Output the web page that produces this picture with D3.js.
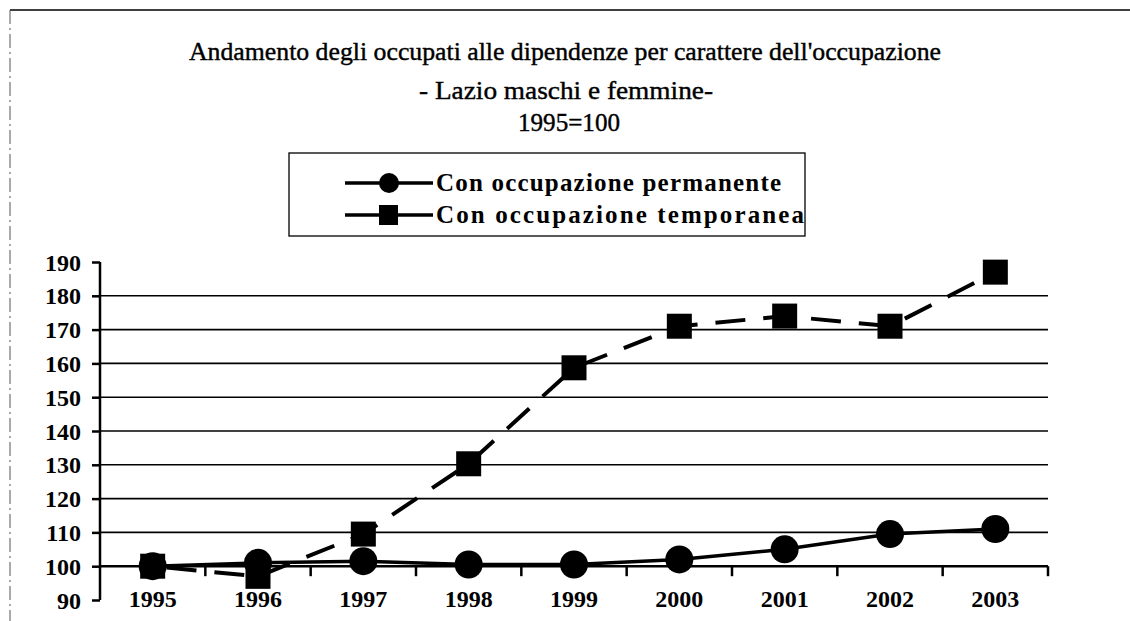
<!DOCTYPE html>
<html>
<head>
<meta charset="utf-8">
<script src="https://cdn.jsdelivr.net/npm/d3@7"></script>
<style>
  html, body { margin: 0; padding: 0; background: #fff; }
  svg { display: block; }
  text { font-family: "Liberation Serif", "Times New Roman", Times, serif !important; fill: #000; }
</style>
</head>
<body>
<svg id="chart" width="1130" height="621"></svg>
<script>
const years = ["1995","1996","1997","1998","1999","2000","2001","2002","2003"];
const permanente = [100, 101, 101.5, 100.5, 100.5, 102, 105, 109.5, 111];
const temporanea = [100, 97, 109.5, 130.3, 158.7, 171, 174, 171, 187];
const yTicks = [90, 100, 110, 120, 130, 140, 150, 160, 170, 180, 190];
const gridValues = [110, 120, 130, 140, 150, 160, 170, 180];
const seriesNames = ["Con occupazione permanente", "Con occupazione temporanea"];
const titleLines = ["Andamento degli occupati alle dipendenze per carattere dell'occupazione", "- Lazio maschi e femmine-", "1995=100"];

const svg = d3.select("#chart");

// frame
svg.append("line").attr("x1", 10).attr("x2", 1130).attr("y1", 10).attr("y2", 10)
  .attr("stroke", "#000").attr("stroke-width", 1.5);
svg.append("line").attr("x1", 10).attr("x2", 10).attr("y1", 10).attr("y2", 621)
  .attr("stroke", "#555").attr("stroke-width", 1).attr("stroke-dasharray", "14,4,2,4");

// titles
const titleY = [60, 99, 131];
const titleX = [565, 566, 569];
const titleW = [752, 294, 102];
titleLines.forEach((t, i) => {
  svg.append("text").attr("x", titleX[i]).attr("y", titleY[i]).attr("text-anchor", "middle")
    .attr("font-size", 25).attr("font-weight", "normal")
    .attr("textLength", titleW[i]).attr("lengthAdjust", "spacingAndGlyphs")
    .style("stroke", "#000").style("stroke-width", 0.4)
    .text(t);
});

const x = d3.scaleBand().domain(years).range([100, 1048]).padding(0);
const y = d3.scaleLinear().domain([90, 190]).range([600, 262]);
const cx = d => x(d) + x.bandwidth() / 2;

// gridlines
svg.append("g").selectAll("line").data(gridValues).join("line")
  .attr("x1", 100).attr("x2", 1048)
  .attr("y1", d => y(d)).attr("y2", d => y(d))
  .attr("stroke", "#000").attr("stroke-width", 1.6);

// y axis
const yAxis = svg.append("g").attr("transform", "translate(100,0)")
  .call(d3.axisLeft(y).tickValues(yTicks).tickSize(8).tickPadding(11).tickFormat(d3.format("d")));
yAxis.select(".domain").attr("stroke-width", 2.5).attr("d", `M0,${y(90)}V${y(190)}`);
yAxis.selectAll(".tick line").attr("stroke-width", 2.5);
yAxis.selectAll(".tick text").attr("font-size", 24).attr("font-weight", "bold").attr("dy", "0.34em");

// x axis at value 100
const xAxisY = y(100);
const xg = svg.append("g").attr("transform", `translate(0,${xAxisY})`);
xg.append("line").attr("x1", 100).attr("x2", 1048).attr("y1", 0).attr("y2", 0)
  .attr("stroke", "#000").attr("stroke-width", 2.5);
const boundaries = years.map(d => x(d) + x.bandwidth());
xg.selectAll("line.tk").data(boundaries).join("line").attr("class", "tk")
  .attr("x1", d => d).attr("x2", d => d).attr("y1", 0).attr("y2", 10)
  .attr("stroke", "#000").attr("stroke-width", 2.5);
svg.append("g").selectAll("text").data(years).join("text")
  .attr("x", d => cx(d)).attr("y", 607).attr("text-anchor", "middle")
  .attr("font-size", 24).attr("font-weight", "bold").text(d => d);

// series
const lineGen = d3.line().x((d, i) => cx(years[i])).y(d => y(d));
svg.append("path").datum(permanente).attr("d", lineGen)
  .attr("fill", "none").attr("stroke", "#000").attr("stroke-width", 3.5);
svg.append("path").datum(temporanea).attr("d", lineGen)
  .attr("fill", "none").attr("stroke", "#000").attr("stroke-width", 4)
  .attr("stroke-dasharray", "30,18").attr("stroke-dashoffset", -14);

const sq = 25;
svg.append("g").selectAll("rect").data(temporanea).join("rect")
  .attr("x", (d, i) => cx(years[i]) - sq / 2).attr("y", d => y(d) - sq / 2)
  .attr("width", sq).attr("height", sq).attr("fill", "#000");
svg.append("g").selectAll("circle").data(permanente).join("circle")
  .attr("cx", (d, i) => cx(years[i])).attr("cy", d => y(d)).attr("r", 14).attr("fill", "#000");

// legend
const lg = svg.append("g");
lg.append("rect").attr("x", 289).attr("y", 153).attr("width", 516).attr("height", 83)
  .attr("fill", "none").attr("stroke", "#000").attr("stroke-width", 1.3);
const rowsY = [183, 215];
seriesNames.forEach((name, i) => {
  const yy = rowsY[i];
  lg.append("line").attr("x1", 345).attr("x2", 433).attr("y1", yy).attr("y2", yy)
    .attr("stroke", "#000").attr("stroke-width", 3.5);
  if (i === 0) {
    lg.append("circle").attr("cx", 389).attr("cy", yy).attr("r", 10).attr("fill", "#000");
  } else {
    lg.append("rect").attr("x", 379).attr("y", yy - 10).attr("width", 19).attr("height", 20).attr("fill", "#000");
  }
  lg.append("text").attr("x", 436).attr("y", yy + 8).attr("font-size", 25).attr("font-weight", "bold")
    .attr("textLength", i === 0 ? 345 : 368).attr("lengthAdjust", "spacing")
    .text(name);
});
</script>
</body>
</html>
